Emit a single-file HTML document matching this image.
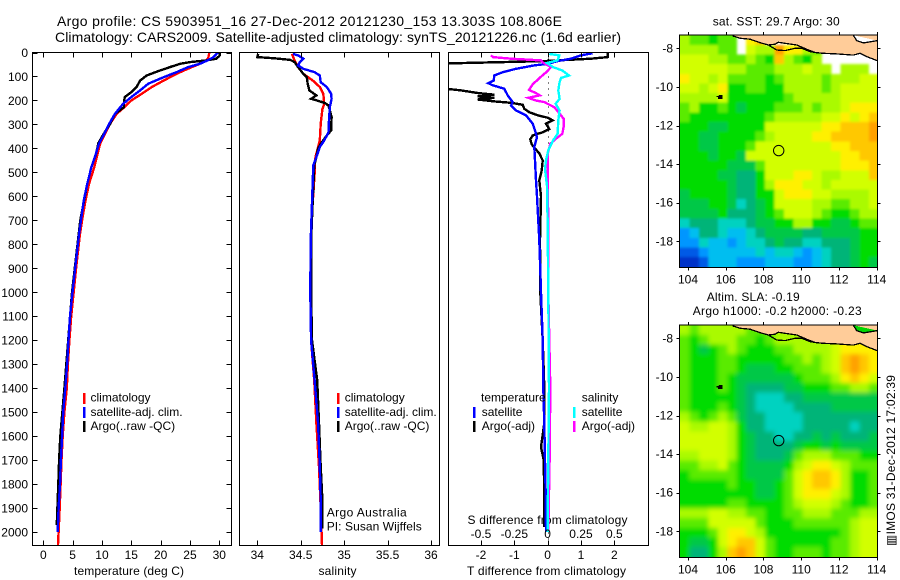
<!DOCTYPE html>
<html lang="en">
<head>
<meta charset="utf-8">
<title>Argo profile</title>
<style>
html,body{margin:0;padding:0;background:#fff;}
svg{display:block;font-family:"Liberation Sans",sans-serif;}
text{fill:#000;}
</style>
</head>
<body>
<svg id="chart" width="900" height="580" viewBox="0 0 900 580" xmlns="http://www.w3.org/2000/svg">
<defs>
<filter id="soften-sst" filterUnits="userSpaceOnUse" x="640" y="0" width="260" height="300"><feGaussianBlur stdDeviation="1.2"/></filter>
<filter id="soften-sla" filterUnits="userSpaceOnUse" x="640" y="290" width="260" height="290"><feGaussianBlur stdDeviation="2.4"/></filter>
</defs>
<text x="57" y="26" font-size="14" textLength="505">Argo profile: CS 5903951_16 27-Dec-2012 20121230_153 13.303S 108.806E</text>
<text x="55" y="42" font-size="14" textLength="566">Climatology: CARS2009. Satellite-adjusted climatology: synTS_20121226.nc (1.6d earlier)</text>
<text x="74" y="575" font-size="12" textLength="110">temperature (deg C)</text>
<text x="318.500" y="575" font-size="12" textLength="38">salinity</text>
<text x="467" y="575" font-size="12" textLength="159">T difference from climatology</text>
<text x="467.500" y="524" font-size="12" textLength="160">S difference from climatology</text>
<text x="326.700" y="516.700" font-size="12" textLength="80">Argo Australia</text>
<text x="326.700" y="530.700" font-size="12" textLength="95">PI: Susan Wijffels</text>
<text x="712.700" y="25.700" font-size="12" textLength="127">sat. SST: 29.7 Argo: 30</text>
<text x="706.700" y="301" font-size="12" textLength="93">Altim. SLA: -0.19</text>
<text x="692.700" y="315" font-size="12" textLength="169">Argo h1000: -0.2 h2000: -0.23</text>
<text transform="translate(895,546) rotate(-90)" font-size="12" textLength="171" style="font-family:'Liberation Sans','DejaVu Sans',sans-serif">▥IMOS 31-Dec-2012 17:02:39</text>
</svg>
<script>
// ---------- profile data (depth in m, temperature deg C, salinity PSU, differences) ----------
const depthTicks = [0,100,200,300,400,500,600,700,800,900,1000,1100,1200,1300,1400,1500,1600,1700,1800,1900,2000];
const tempTicks = [0,5,10,15,20,25,30];
const salTicks = [34,34.5,35,35.5,36];
const salTickLabels = ['34','34.5','35','35.5','36'];
const tDiffTicks = [-2,-1,0,1,2];
const sDiffTicks = [-0.5,-0.25,0,0.25,0.5];
const sDiffLabels = ['-0.5','-0.25','0','0.25','0.5'];
const lonTicks = [104,106,108,110,112,114];
const latTicks = [-8,-10,-12,-14,-16,-18];

const climTempDepth = [0,25,35,47,61,89,117,144,172,200,228,256,297,339,380,436,478,547,617,686,756,894,1019,1100,1200,1300,1400,1500,1600,1700,1800,1900,2000,2054];
const climTemp = [28.3,28.1,27.6,26.7,25.3,22.7,20.5,18.5,16.8,15,13.8,12.5,11.4,10.5,9.7,9.1,8.7,7.8,7.2,6.7,6.25,5.6,5.1,4.75,4.45,4.2,4,3.6,3.3,3.1,2.95,2.8,2.6,2.5];
const satTempDepth = [0,6,20,35,47,61,82,103,130,158,186,214,256,297,339,380,436,478,547,617,686,756,894,1019,1100,1200,1300,1400,1500,1600,1700,1800,1900,2000];
const satTemp = [29.8,29.5,29,27.8,26.7,24.7,22.7,20.5,17.9,16.5,15,13.6,12.2,11.25,10.4,9.5,8.8,8.2,7.5,6.9,6.5,6.1,5.45,4.9,4.55,4.3,4.05,3.75,3.4,3.2,3,2.85,2.6,2.45];
const argoTempDepth = [0,12,26,33,40,47,61,75,96,117,144,165,186,207,228,256,297,339,378,422,478,547,700,1000,1400,1600,1700,1800,1900,1970];
const argoTemp = [30.1,30.1,29.5,27.8,25,23.3,21.6,19.9,17.6,16.5,15.9,15,13.9,13.75,13.75,12.2,11.4,10.3,9.4,9,8.2,7.5,6.3,4.9,3.6,2.9,2.7,2.55,2.4,2.3];

const climSalDepth = [6,33,61,89,117,144,172,214,236,297,367,394,436,471,506,672,783,1000,1200,1367,1546,1728,1900,2054];
const climSal = [34.4,34.43,34.47,34.53,34.64,34.72,34.76,34.77,34.75,34.73,34.72,34.7,34.67,34.66,34.66,34.63,34.62,34.61,34.62,34.655,34.68,34.71,34.73,34.745];
const satSalDepth = [6,12,26,40,54,68,82,96,124,144,172,193,228,283,333,367,394,436,471,783,1000,1200,1367,1546,1728,1867,2000];
const satSal = [34.41,34.47,34.53,34.49,34.47,34.53,34.66,34.72,34.73,34.8,34.85,34.855,34.835,34.825,34.82,34.77,34.72,34.68,34.645,34.615,34.61,34.62,34.66,34.7,34.72,34.73,34.73];
const argoSalDepth = [6,19,24,31,40,61,89,103,131,158,179,193,200,211,221,269,325,346,381,401,436,471,783,1000,1200,1367,1546,1728,1867,1985];
const argoSal = [34.01,34,34.2,34.38,34.43,34.47,34.53,34.57,34.58,34.6,34.68,34.62,34.69,34.78,34.82,34.855,34.85,34.8,34.73,34.7,34.68,34.655,34.62,34.62,34.63,34.69,34.71,34.73,34.75,34.75];

const satDiffTDepth = [3,12,26,36,47,54,68,82,96,117,128,137,151,179,207,221,242,262,297,325,353,394,450,533,600,783,1000,1200,1400,1546,1700,1850,2000];
const satDiffT = [1.35,1,0.7,0.3,0,-0.4,-0.95,-1.35,-1.6,-1.62,-1.78,-1.65,-1.3,-1.2,-1.05,-1.1,-0.95,-0.65,-0.45,-0.38,-0.32,-0.4,-0.38,-0.35,-0.32,-0.25,-0.2,-0.15,-0.13,-0.1,-0.08,-0.06,-0.05];
const argoDiffTDepth = [3,19,26,36,47,50,144,158,169,176,183,189,196,204,210,218,235,249,262,272,283,297,319,333,339,346,362,383,400,421,450,492,533,600,783,1000,1200,1400,1546,1646,1700,1850,1980];
const argoDiffT = [1.8,1.8,1.3,-0.1,-3.5,-3.5,-3.5,-2.6,-2.1,-1.6,-2.1,-1.6,-2.1,-1.6,-1.1,-0.75,-0.7,-0.55,-0.3,0,0.15,-0.05,0.05,-0.15,-0.3,-0.45,-0.52,-0.48,-0.38,-0.25,-0.15,-0.18,-0.25,-0.2,-0.23,-0.22,-0.15,-0.1,-0.1,-0.2,-0.12,-0.1,-0.1];
const argoDiffSDepth = [12,19,26,33,40,61,82,96,114,131,156,169,179,189,200,207,228,262,276,311,339,361,381,423,472,547,700,1000,1400,1700,2000];
const argoDiffS = [-0.425,-0.41,-0.275,-0.05,-0.04,0.025,-0.01,-0.04,-0.075,-0.11,-0.14,-0.09,-0.06,-0.145,-0.09,-0.025,0.05,0.1,0.12,0.12,0.11,0.06,0.02,0,0,0,0.005,0.005,0.02,0.015,0.005];
const satDiffSDepth = [6,12,33,44,61,75,96,106,124,158,193,214,242,283,339,367,408,450,486,556,700,1000,1400,1700,2000];
const satDiffS = [0.0125,0.0875,0.075,-0.005,0.04,0.11,0.16,0.1,0.09,0.08,0.09,0.06,0.09,0.08,0.075,0.04,0.005,-0.0125,-0.02,-0.005,0,0.005,0.01,0.005,0];

// ---------- map data: colour-scale level per 0.5 degree cell (null = no data) ----------
const N = null;
const sstLevels = [
[9,8,8,7,8,8,N,11,12,N,N,N,N,N,N,N,N,N,N,N,N],
[9,9,9,9,8,8,N,10,9,9,13,11,11,9,8,N,N,N,N,N,N],
[10,10,10,9,9,8,8,9,8,7,12,9,8,7,9,N,N,N,N,N,N],
[10,10,10,10,10,9,9,8,8,8,9,9,9,10,9,9,N,9,9,9,N],
[11,10,10,9,10,8,8,8,8,7,8,9,9,9,9,8,9,9,9,10,10],
[10,10,9,10,11,7,7,8,8,7,7,9,9,9,9,8,9,10,10,10,10],
[9,9,9,9,10,7,7,7,7,7,7,8,9,9,9,9,9,10,10,10,10],
[8,9,7,7,8,7,6,7,7,7,8,8,8,9,8,9,9,10,11,11,11],
[8,7,7,7,7,7,7,7,7,8,9,9,9,9,9,10,10,11,10,11,12],
[7,7,7,6,6,7,7,7,7,10,10,10,10,10,10,11,11,12,12,12,13],
[7,7,6,6,7,7,7,7,8,9,10,10,10,10,11,11,12,12,12,12,13],
[7,7,6,6,7,7,7,8,10,10,10,10,10,10,10,10,11,11,12,12,12],
[7,7,7,6,7,7,6,10,10,10,10,10,10,10,10,10,10,11,11,12,12],
[7,7,7,7,7,6,6,6,8,10,10,10,10,10,10,10,10,11,11,11,12],
[7,7,7,7,6,6,5,5,7,10,10,10,11,11,10,9,9,10,10,10,12],
[7,7,7,7,7,6,5,5,7,9,11,11,11,10,10,9,10,10,10,10,10],
[6,7,7,7,7,6,5,5,7,7,10,11,11,11,10,10,9,9,9,9,10],
[6,6,6,7,7,6,4,5,6,7,10,10,10,10,9,9,8,8,9,9,10],
[6,6,6,6,7,5,5,5,6,7,8,10,10,10,9,8,7,7,8,9,9],
[4,5,5,5,4,4,4,5,6,6,7,7,9,9,7,7,6,6,7,8,8],
[2,3,5,5,4,3,3,4,5,6,6,6,6,5,5,6,6,6,6,7,7],
[2,2,4,3,3,2,3,4,4,5,6,5,5,4,4,5,5,5,6,7,7],
[1,1,2,3,3,3,3,3,4,3,4,4,3,2,3,4,5,5,6,7,7],
[0,0,1,3,3,3,2,2,2,3,3,3,2,2,3,4,5,5,6,7,6]
];
const slaLevels = [
[9,8,9,9,9,9,9,8,8,8,9,9,9,9,9,9,10,11,11,11,11],
[8,7,8,9,9,9,8,8,7,8,9,9,9,9,9,9,10,11,11,11,11],
[8,7,6,7,8,9,8,7,7,7,8,8,9,9,9,9,10,11,11,11,11],
[8,7,7,7,8,8,7,7,7,7,7,8,8,9,8,9,10,12,13,12,11],
[8,7,7,7,8,8,7,6,6,6,7,7,8,8,8,9,10,12,13,12,11],
[8,7,7,7,8,7,6,6,6,6,6,6,7,8,8,8,9,11,12,11,10],
[8,7,7,7,8,7,6,5,5,5,5,6,6,7,7,7,8,8,9,9,8],
[8,7,7,7,7,7,6,5,4,4,4,5,5,6,6,6,6,6,6,6,6],
[8,7,7,7,8,7,6,5,4,4,4,4,5,5,5,5,6,6,6,6,6],
[9,8,7,8,9,8,6,5,5,4,4,4,4,5,5,5,5,5,5,5,5],
[10,9,9,10,10,9,7,5,5,4,4,4,4,5,5,5,5,5,4,5,5],
[10,10,10,10,10,9,7,6,5,5,4,4,5,5,6,5,6,5,5,5,6],
[10,10,10,10,10,9,7,6,5,5,5,5,6,7,7,6,7,6,6,6,6],
[9,9,10,10,10,9,7,6,5,5,5,6,8,9,9,9,8,8,8,7,7],
[8,8,9,9,10,8,7,6,6,6,6,7,9,10,11,11,10,9,8,8,8],
[7,8,8,8,8,8,7,6,6,6,6,8,10,11,12,12,11,9,7,7,8],
[7,7,7,7,7,8,7,7,6,6,7,8,10,11,12,12,11,9,7,7,8],
[7,7,7,7,7,7,7,7,6,6,7,8,10,11,11,11,10,9,7,7,8],
[7,7,7,7,7,8,8,7,7,7,7,8,9,10,10,10,9,8,7,7,8],
[9,9,9,10,10,9,9,8,8,7,7,8,8,9,9,9,8,8,8,9,9],
[8,8,8,10,10,10,10,10,8,7,7,7,8,8,8,8,8,8,9,10,10],
[7,7,7,8,10,11,11,10,9,7,7,7,7,7,7,7,7,8,9,10,10],
[7,6,6,7,10,11,12,12,10,8,7,7,7,7,7,7,8,8,9,10,10],
[7,5,5,7,9,12,13,12,10,8,7,7,8,8,8,7,8,8,9,10,10]
];
const levelColours = ['#0032c8','#005ae6','#0096ff','#00bef0','#00d2c0','#00b478','#00c846','#00dc00','#5aeb00','#aafa00','#d2ff00','#fff000','#ffc800','#ffa000','#ff6e00'];
const coastLon = [106.37,106.76,107.29,107.82,108.26,108.61,108.79,109.14,109.76,110.29,110.73,111.17,111.88,112.76,113.12,113.47,114.03];
const coastLat = [-7.36,-7.48,-7.53,-7.71,-7.83,-7.79,-7.69,-7.74,-7.83,-8.05,-8.22,-8.26,-8.29,-8.35,-8.26,-8.43,-8.64];
const shelfLon = [108.26,108.7,109.14,109.67,110.02,110.47,110.73];
const shelfLat = [-7.83,-8.09,-8.12,-8.0,-8.0,-8.17,-8.22];
const bayLon = [112.76,112.94,113.3,114.03];
const bayLat = [-7.32,-7.6,-7.72,-7.6];
const islandLon = [105.5,105.62,105.62,105.78,105.78,105.65];
const islandLat = [-10.5,-10.5,-10.6,-10.6,-10.45,-10.45];
const argoLon = 108.806;
const argoLat = -13.303;

// ---------- helpers ----------
const svg = document.getElementById('chart');
const NS = 'http://www.w3.org/2000/svg';
function make(tag, attrs, parent) {
  const el = document.createElementNS(NS, tag);
  for (const k in attrs) el.setAttribute(k, attrs[k]);
  (parent || svg).appendChild(el);
  return el;
}
function linear(d0, d1, r0, r1) {
  return function (v) { return r0 + (v - d0) * (r1 - r0) / (d1 - d0); };
}
function px(v) { return Math.round(v) + 0.5; }
const yDepth = linear(0, 2000, 52.5, 532);

function label(txt, x, y, anchor, name, parent) {
  const t = make('text', {x: x, y: y, 'font-size': 12, 'text-anchor': anchor}, parent);
  t.textContent = txt;
  
  
  return t;
}
function tickLine(x1, y1, x2, y2, name, parent) {
  const l = make('line', {x1: x1, y1: y1, x2: x2, y2: y2, stroke: '#000', 'stroke-width': 1, 'shape-rendering': 'crispEdges'}, parent);
  
  
  return l;
}
function frame(x0, y0, x1, y1, name, parent) {
  const r = make('rect', {x: x0, y: y0, width: x1 - x0, height: y1 - y0, fill: 'none', stroke: '#000', 'stroke-width': 1.4, 'shape-rendering': 'crispEdges'}, parent);
  
  
  return r;
}
function clipFor(id, x0, y0, x1, y1) {
  const c = make('clipPath', {id: id});
  make('rect', {x: x0, y: y0, width: x1 - x0, height: y1 - y0}, c);
}
function series(depths, values, xScale, colour, name, clip, width) {
  let pts = '';
  for (let i = 0; i < depths.length; i++) {
    pts += xScale(values[i]).toFixed(1) + ',' + yDepth(depths[i]).toFixed(1) + ' ';
  }
  const p = make('polyline', {points: pts, fill: 'none', stroke: colour, 'stroke-width': width || 2, 'stroke-linejoin': 'miter', 'shape-rendering': 'crispEdges', 'clip-path': 'url(#' + clip + ')'});
  
  
  return p;
}
function legendBar(x, y, colour, name) {
  const r = make('rect', {x: x, y: y, width: 2.5, height: 11, fill: colour, 'shape-rendering': 'crispEdges'});
  
  
}

// ---------- panel 1: temperature ----------
const P1 = {x0: 32.5, x1: 231.5, y0: 52.5, y1: 545.5};
const xTemp = linear(0, 30, 43.3, 219.3);
clipFor('clip-temp', P1.x0, P1.y0, P1.x1, P1.y1);
series(climTempDepth, climTemp, xTemp, '#ff0000', 'climatology-temperature-line', 'clip-temp', 2.4);
series(argoTempDepth, argoTemp, xTemp, '#000000', 'argo-temperature-line', 'clip-temp', 2.4);
series(satTempDepth, satTemp, xTemp, '#0000ff', 'satellite-temperature-line', 'clip-temp', 2.4);
frame(P1.x0, P1.y0, P1.x1, P1.y1, 'temperature-panel-frame');
tempTicks.forEach(function (t) {
  const x = px(xTemp(t));
  tickLine(x, P1.y0, x, P1.y0 + 5, 'temperature-top-tick');
  tickLine(x, P1.y1, x, P1.y1 - 5, 'temperature-bottom-tick');
  label(String(t), xTemp(t), 559, 'middle', 'temperature-tick-label');
});
depthTicks.forEach(function (d) {
  const y = px(yDepth(d));
  tickLine(P1.x0, y, P1.x0 + 5, y, 'depth-left-tick');
  tickLine(P1.x1, y, P1.x1 - 5, y, 'depth-right-tick');
  label(String(d), 28, yDepth(d) + 4.5, 'end', 'depth-tick-label');
});
legendBar(83, 393, '#ff0000', 'legend-climatology-swatch');
legendBar(83, 407, '#0000ff', 'legend-satellite-swatch');
legendBar(83, 421, '#000000', 'legend-argo-swatch');
label('climatology', 90.5, 401.7, 'start', 'legend-climatology-label');
label('satellite-adj. clim.', 90.5, 416, 'start', 'legend-satellite-label');
label('Argo(..raw -QC)', 90.5, 430, 'start', 'legend-argo-label');

// ---------- panel 2: salinity ----------
const P2 = {x0: 239.5, x1: 439.5, y0: 52.5, y1: 545.5};
const xSal = linear(34, 36, 257.3, 431);
clipFor('clip-sal', P2.x0, P2.y0, P2.x1, P2.y1);
series(climSalDepth, climSal, xSal, '#ff0000', 'climatology-salinity-line', 'clip-sal', 2.4);
series(argoSalDepth, argoSal, xSal, '#000000', 'argo-salinity-line', 'clip-sal', 2.4);
series(satSalDepth, satSal, xSal, '#0000ff', 'satellite-salinity-line', 'clip-sal', 2.4);
frame(P2.x0, P2.y0, P2.x1, P2.y1, 'salinity-panel-frame');
salTicks.forEach(function (s, i) {
  const x = px(xSal(s));
  tickLine(x, P2.y0, x, P2.y0 + 5, 'salinity-top-tick');
  tickLine(x, P2.y1, x, P2.y1 - 5, 'salinity-bottom-tick');
  label(salTickLabels[i], xSal(s), 559, 'middle', 'salinity-tick-label');
});
legendBar(337, 393, '#ff0000', 'legend-climatology-swatch-2');
legendBar(337, 407, '#0000ff', 'legend-satellite-swatch-2');
legendBar(337, 421, '#000000', 'legend-argo-swatch-2');
label('climatology', 344.7, 401.7, 'start', 'legend-climatology-label-2');
label('satellite-adj. clim.', 344.7, 416, 'start', 'legend-satellite-label-2');
label('Argo(..raw -QC)', 344.7, 430, 'start', 'legend-argo-label-2');

// ---------- panel 3: differences ----------
const P3 = {x0: 448.5, x1: 648.5, y0: 52.5, y1: 545.5};
const xDT = linear(-2, 2, 481, 614.3);
const xDS = linear(-0.5, 0.5, 481, 614.3);
clipFor('clip-diff', P3.x0, P3.y0, P3.x1, P3.y1);
const zero = make('line', {x1: px(xDT(0)), y1: P3.y0, x2: px(xDT(0)), y2: P3.y1, stroke: '#000', 'stroke-width': 1, 'stroke-dasharray': '1 5', 'shape-rendering': 'crispEdges'});


series(argoDiffTDepth, argoDiffT, xDT, '#000000', 'argo-t-difference-line', 'clip-diff', 2.4);
series(satDiffTDepth, satDiffT, xDT, '#0000ff', 'satellite-t-difference-line', 'clip-diff', 2.4);
series(argoDiffSDepth, argoDiffS, xDS, '#ff00ff', 'argo-s-difference-line', 'clip-diff', 2.4);
series(satDiffSDepth, satDiffS, xDS, '#00ffff', 'satellite-s-difference-line', 'clip-diff', 2.4);
frame(P3.x0, P3.y0, P3.x1, P3.y1, 'difference-panel-frame');
tDiffTicks.forEach(function (t) {
  const x = px(xDT(t));
  tickLine(x, P3.y0, x, P3.y0 + 5, 'difference-top-tick');
  tickLine(x, P3.y1, x, P3.y1 - 5, 'difference-bottom-tick');
  label(String(t), xDT(t), 559, 'middle', 't-difference-tick-label');
});
sDiffTicks.forEach(function (s, i) {
  label(sDiffLabels[i], xDS(s), 538, 'middle', 's-difference-tick-label');
});
label('temperature', 481, 401.7, 'start', 'legend-temperature-heading');
label('salinity', 581.7, 401.7, 'start', 'legend-salinity-heading');
legendBar(473, 407, '#0000ff', 'legend-t-satellite-swatch');
legendBar(473, 421, '#000000', 'legend-t-argo-swatch');
legendBar(573, 407, '#00ffff', 'legend-s-satellite-swatch');
legendBar(573, 421, '#ff00ff', 'legend-s-argo-swatch');
label('satellite', 481.7, 416, 'start', 'legend-t-satellite-label');
label('Argo(-adj)', 481.7, 430, 'start', 'legend-t-argo-label');
label('satellite', 581.7, 416, 'start', 'legend-s-satellite-label');
label('Argo(-adj)', 581.7, 430, 'start', 'legend-s-argo-label');

// ---------- maps ----------
function drawMap(levels, top, prefix, bayFill) {
  const left = 679.5, right = 877.5, bottom = top + 232.5;
  const xLon = linear(104, 114, 688, 876.7);
  const yLat = linear(-8, -18, top + 13.3, top + 206.3);
  const lonStart = 103.58, latStart = -7.32, step = 0.5;
  const g = make('g', {});
  
  
  const clipId = 'clip-' + prefix;
  clipFor(clipId, left, top, right, bottom);
  g.setAttribute('clip-path', 'url(#' + clipId + ')');
  const cells = make('g', {filter: 'url(#soften-' + prefix + ')'}, g);
  
  
  const lastRow = levels.length - 1;
  levels.forEach(function (row, r) {
    const lastCol = row.length - 1;
    row.forEach(function (v, c) {
      if (v === null) return;
      const x0 = xLon(lonStart + c * step) - (c === 0 ? 14 : 0);
      const x1 = xLon(lonStart + (c + 1) * step) + (c === lastCol ? 14 : 0);
      const y0 = yLat(latStart - r * step) - (r === 0 ? 14 : 0);
      const y1 = yLat(latStart - (r + 1) * step) + (r === lastRow ? 14 : 0);
      const cell = make('rect', {x: x0.toFixed(2), y: y0.toFixed(2), width: (x1 - x0 + 0.4).toFixed(2), height: (y1 - y0 + 0.4).toFixed(2), fill: levelColours[v], 'shape-rendering': 'crispEdges'}, cells);
      
      
    });
  });
  let landPts = '';
  coastLon.forEach(function (lon, i) { landPts += xLon(lon).toFixed(1) + ',' + yLat(coastLat[i]).toFixed(1) + ' '; });
  landPts += xLon(114.2).toFixed(1) + ',' + yLat(-8.64).toFixed(1) + ' ' + xLon(114.2).toFixed(1) + ',' + (top - 2) + ' ' + xLon(106.37).toFixed(1) + ',' + (top - 2);
  const land = make('polygon', {points: landPts, fill: '#ffcc99'}, g);
  
  
  function outline(lons, lats, name, fill) {
    let pts = '';
    lons.forEach(function (lon, i) { pts += xLon(lon).toFixed(1) + ',' + yLat(lats[i]).toFixed(1) + ' '; });
    const l = make('polyline', {points: pts, fill: fill, stroke: '#000', 'stroke-width': 1.3, 'shape-rendering': 'crispEdges'}, g);
    
    
  }
  outline(coastLon, coastLat, prefix + '-coastline', 'none');
  outline(shelfLon, shelfLat, prefix + '-shelf-line', 'none');
  outline(bayLon, bayLat, prefix + '-bay-outline', bayFill);
  outline(islandLon, islandLat, prefix + '-island', '#000');
  const mark = make('circle', {cx: xLon(argoLon).toFixed(1), cy: yLat(argoLat).toFixed(1), r: 5.2, fill: 'none', stroke: '#000', 'stroke-width': 1}, g);
  
  
  frame(left, top, right, bottom, prefix + '-frame');
  lonTicks.forEach(function (lon) {
    const x = px(xLon(lon));
    tickLine(x, top, x, top - 3, prefix + '-top-tick');
    tickLine(x, bottom, x, bottom + 3, prefix + '-bottom-tick');
    label(String(lon), xLon(lon), bottom + 16, 'middle', prefix + '-lon-label');
  });
  latTicks.forEach(function (lat) {
    const y = px(yLat(lat));
    tickLine(left, y, left - 3, y, prefix + '-left-tick');
    tickLine(right, y, right + 3, y, prefix + '-right-tick');
    label(String(lat), 673, yLat(lat) + 4, 'end', prefix + '-lat-label');
  });
}
drawMap(sstLevels, 35, 'sst', '#ffffff');
drawMap(slaLevels, 325, 'sla', '#00d700');
</script>
</body>
</html>
